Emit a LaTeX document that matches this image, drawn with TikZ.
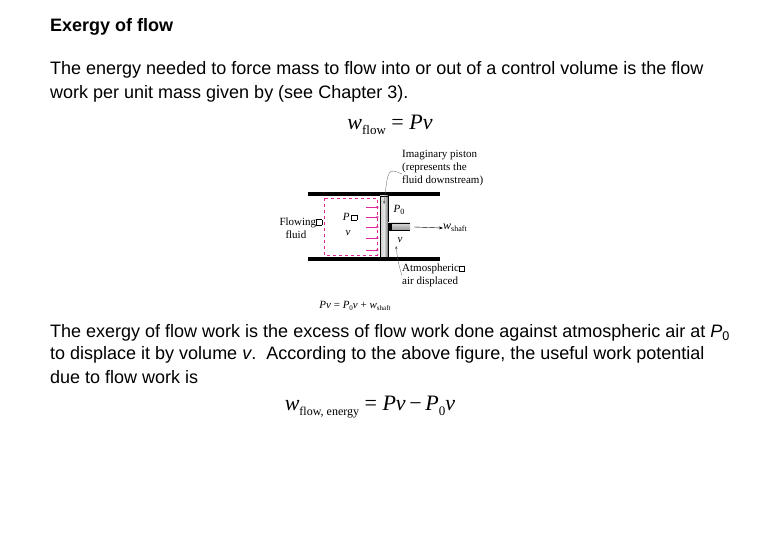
\documentclass[tikz,border=0pt]{standalone}
\usepackage{fontspec}
\setmainfont{Liberation Sans}
\newfontfamily\tms{Liberation Serif}
\usetikzlibrary{arrows.meta}
\definecolor{mag}{RGB}{220,40,150}
\newcommand\sqbx{\raisebox{0.1ex}{\setlength{\fboxsep}{0pt}\setlength{\fboxrule}{0.3pt}\fbox{\rule{0pt}{5pt}\hspace{5pt}}}}
\newcommand\lowr[2]{\raisebox{-0.45ex}{\fontsize{#1}{#1}\selectfont #2}}
\begin{document}
\begin{tikzpicture}[x=1pt,y=-1pt,
  body/.style={anchor=west,inner sep=0,font=\fontsize{18}{22}\selectfont},
  fig/.style={inner sep=0,font=\tms\fontsize{11}{13}\selectfont,align=left},
  wall/.style={fill=black},
  push/.style={mag,-{Stealth[length=3pt]},line width=0.6pt}]
\useasboundingbox (0,0) rectangle (780,540);
\node[body,font=\bfseries\fontsize{18}{22}\selectfont] (t) at (50,27) {Exergy of flow};
\node[body] (l1) at (50,70) {The energy needed to force mass to flow into or out of a control volume is the flow};
\node[body] (l2) at (50,94) {work per unit mass given by (see Chapter 3).};
\node[inner sep=0,font=\tms\fontsize{22}{24}\selectfont] (e1) at (390,125) {\textit{w}\lowr{13}{flow} = \textit{Pv}};
% figure
\fill[wall] (308,192) rectangle (440,196);
\fill[wall] (308,257) rectangle (440,261);
\draw[mag,dashed,line width=0.6pt] (324,198) rectangle (377,255);
\foreach \yy in {207,217,227,238,250} \draw[push] (366,\yy) -- (379,\yy);
\shade[left color=gray!40,right color=gray!90!black,middle color=gray!20] (380,196) rectangle (388,257);
\draw[line width=0.4pt] (380,196) rectangle (388,257);
\shade[top color=gray!30,bottom color=gray!80] (388,223) rectangle (410,230);
\draw (410,223) -- (388,223) -- (388,230) -- (410,230);
\fill (388,223) rectangle (392,230);
\coordinate (rodend) at (414,227);
\node[inner sep=0,anchor=west,font=\tms\fontsize{12}{14}\selectfont] (ws) at (443,228) {\textit{w}\lowr{8}{shaft}};
\draw[-{Stealth[length=4pt]},line width=0.4pt] (rodend) -- (ws.west);
\node[fig] (p0) at (399,210) {\textit{P}\lowr{8}{0}};
\node[fig] (vv) at (400,240) {\textit{v}};
\node[fig] (pp) at (350,217) {\textit{P}\,\sqbx};
\node[fig] (pv) at (348,233) {\textit{v}};
\node[fig,anchor=east] (ff) at (322,228) {Flowing\sqbx\\\hspace*{6pt}fluid};
\node[fig,anchor=north west] (ip) at (402,150) {Imaginary piston\\(represents the\\fluid downstream)};
\coordinate (ipt) at (384,204);
\draw[-{Stealth[length=3pt]},line width=0.3pt,gray!70!black] (ip.west)++(0,6) .. controls (388,168) .. (ipt);
\node[fig,anchor=north west] (at) at (402,264) {Atmospheric\sqbx\\air displaced};
\coordinate (att) at (396,246);
\draw[-{Stealth[length=3pt]},line width=0.3pt,gray!70!black] (at.west) .. controls (398,262) .. (att);
\node[fig] (eq) at (355,306) {\textit{Pv} = \textit{P}\lowr{7}{0}\textit{v} + \textit{w}\lowr{7}{shaft}};
% paragraph 2
\node[body] (m1) at (50,333) {The exergy of flow work is the excess of flow work done against atmospheric air at \textit{P}\textsubscript{0}};
\node[body] (m2) at (50,355) {to displace it by volume \textit{v}.\ \ According to the above figure, the useful work potential};
\node[body] (m3) at (50,377) {due to flow work is};
\node[inner sep=0,font=\tms\fontsize{22}{24}\selectfont] (e2) at (370,407) {\textit{w}\lowr{12}{flow, energy} = \textit{Pv}\,−\,\textit{P}\lowr{13}{0}\textit{v}};
\end{tikzpicture}
\end{document}
